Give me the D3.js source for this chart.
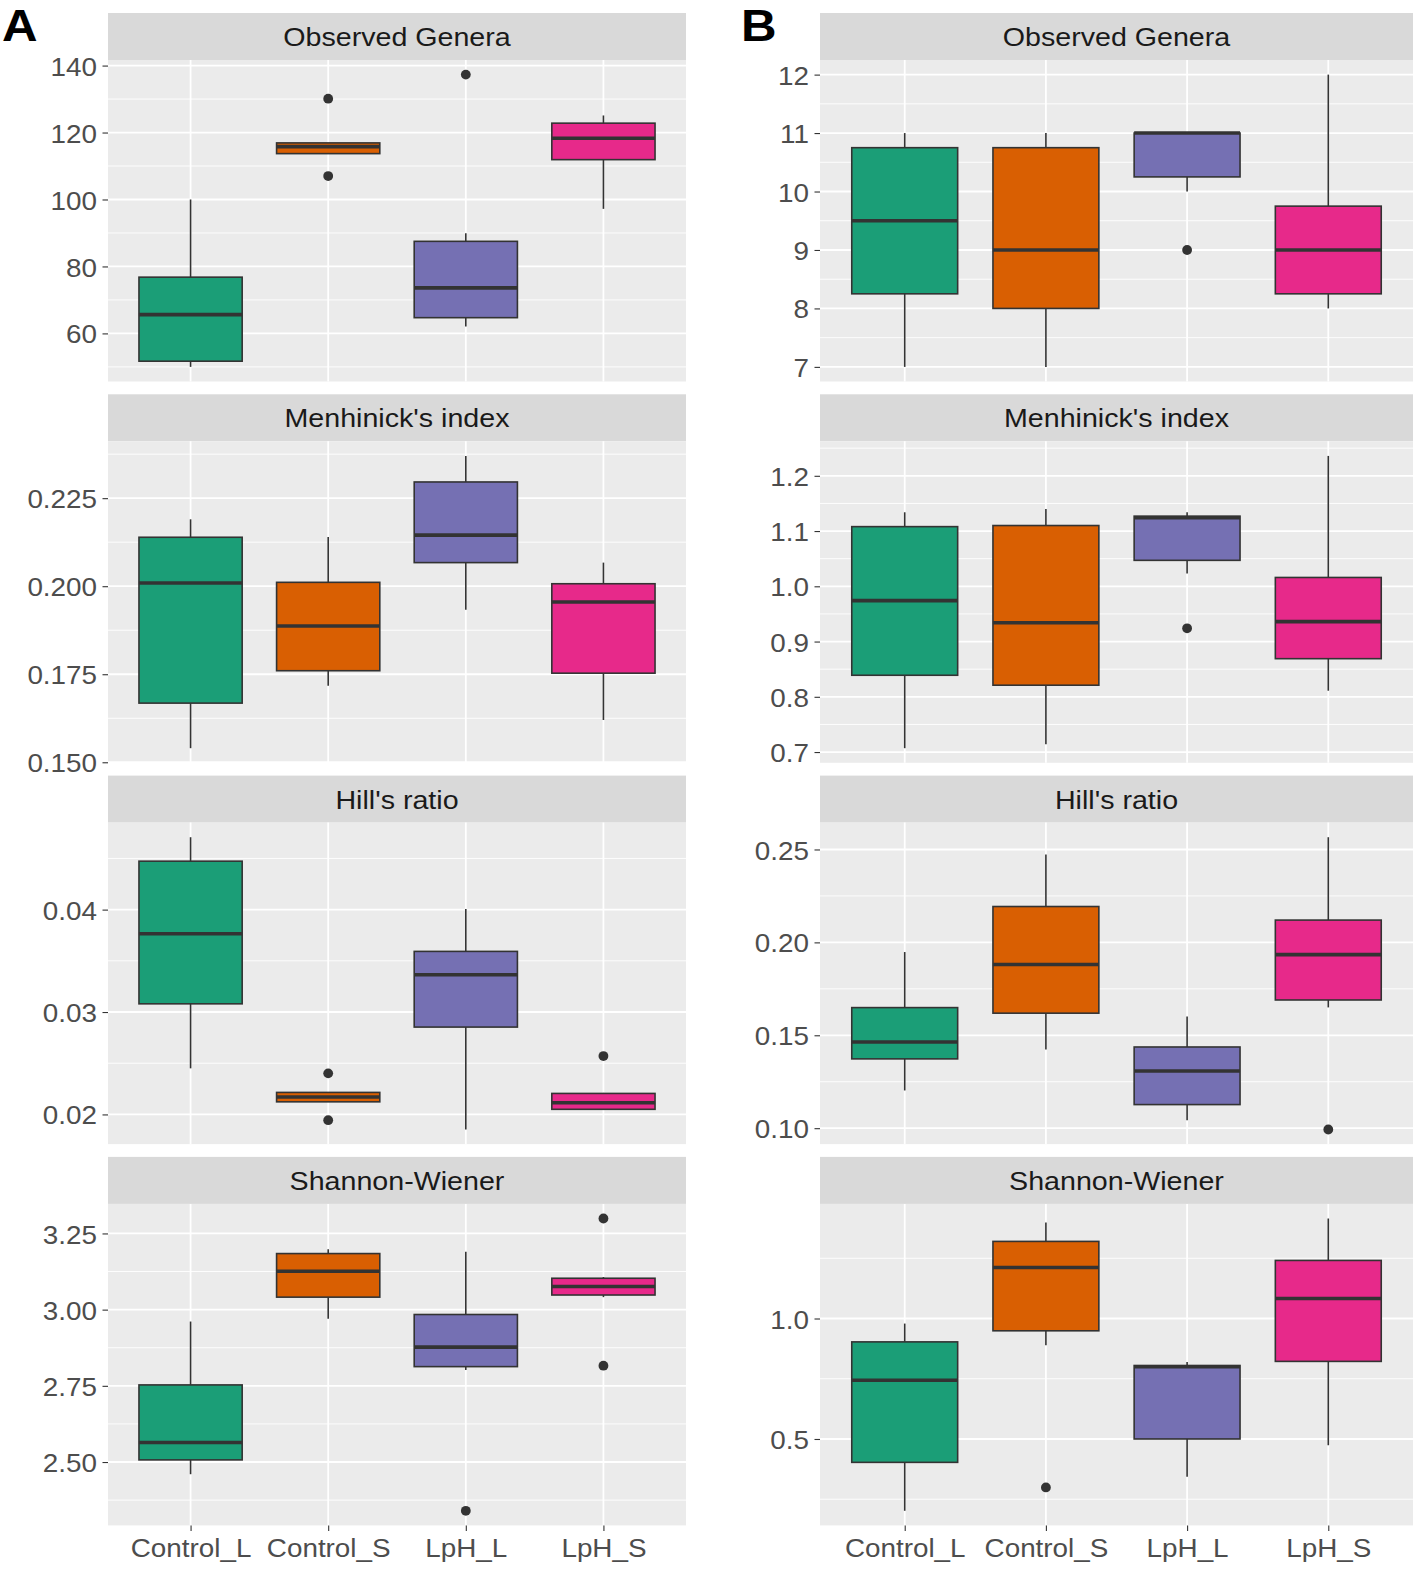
<!DOCTYPE html>
<html>
<head>
<meta charset="utf-8">
<script src="https://cdnjs.cloudflare.com/ajax/libs/d3/7.8.5/d3.min.js"></script>
<style>
  html, body { margin: 0; padding: 0; background: #ffffff; }
  svg { display: block; }
  text { font-family: "Liberation Sans", Arial, sans-serif; }
</style>
</head>
<body>
<svg id="chart" width="1418" height="1569"></svg>
<script>
// ---------------- DATA ----------------
const categories = ["Control_L", "Control_S", "LpH_L", "LpH_S"];
const fillColors = ["#1B9E77", "#D95F02", "#7570B3", "#E7298A"];
const metricNames = ["Observed Genera", "Menhinick's index", "Hill's ratio", "Shannon-Wiener"];
const panelLetters = ["A", "B"];

// box stats per category: [lower whisker, Q1, median, Q3, upper whisker]
const obsA  = [[50, 51.7, 65.6, 76.8, 100], [113.7, 113.7, 115.8, 116.9, 116.9], [62.1, 64.7, 73.6, 87.5, 89.9], [97.2, 111.9, 118.3, 122.8, 125.1]];
const obsA_out = [[], [130.1, 107.0], [137.3], []];
const menA  = [[0.154, 0.1668, 0.2009, 0.2139, 0.219], [0.1717, 0.176, 0.1887, 0.2011, 0.214], [0.1933, 0.2067, 0.2145, 0.2296, 0.237], [0.162, 0.1753, 0.1955, 0.2007, 0.2067]];
const menA_out = [[], [], [], []];
const hillA = [[0.0245, 0.0308, 0.03765, 0.04473, 0.04707], [0.02123, 0.02123, 0.0217, 0.02215, 0.02215], [0.01853, 0.02853, 0.03364, 0.03592, 0.04007], [0.0205, 0.0205, 0.02114, 0.02205, 0.0221]];
const hillA_out = [[], [0.02401, 0.01944], [], [0.0257]];
const shanA = [[2.46, 2.507, 2.564, 2.753, 2.961], [2.970, 3.041, 3.126, 3.184, 3.198], [2.802, 2.813, 2.877, 2.984, 3.19], [3.041, 3.048, 3.076, 3.103, 3.107]];
const shanA_out = [[], [], [2.34], [3.299, 2.816]];

const obsB  = [[7, 8.25, 9.5, 10.75, 11], [7, 8, 9, 10.75, 11], [10, 10.25, 11, 11, 11], [8, 8.25, 9, 9.75, 12]];
const obsB_out = [[], [], [9], []];
const menB  = [[0.707, 0.839, 0.974, 1.108, 1.134], [0.714, 0.821, 0.934, 1.11, 1.14], [1.023, 1.047, 1.124, 1.127, 1.134], [0.811, 0.869, 0.936, 1.016, 1.236]];
const menB_out = [[], [], [0.924], []];
const hillB = [[0.1203, 0.1373, 0.1464, 0.1649, 0.1948], [0.1423, 0.1619, 0.1881, 0.2193, 0.2473], [0.1043, 0.1127, 0.1308, 0.1437, 0.1601], [0.165, 0.169, 0.1934, 0.212, 0.2566]];
const hillB_out = [[], [], [], [0.0993]];
const shanB = [[0.202, 0.403, 0.744, 0.903, 0.979], [0.889, 0.949, 1.212, 1.32, 1.398], [0.343, 0.5, 0.80, 0.805, 0.82], [0.474, 0.822, 1.083, 1.241, 1.415]];
const shanB_out = [[], [0.299], [], []];

// y tick values and labels
const obsA_ticks = [60, 80, 100, 120, 140];
const obsA_labels = ["60", "80", "100", "120", "140"];
const menA_ticks = [0.150, 0.175, 0.200, 0.225];
const menA_labels = ["0.150", "0.175", "0.200", "0.225"];
const hillA_ticks = [0.02, 0.03, 0.04];
const hillA_labels = ["0.02", "0.03", "0.04"];
const shanA_ticks = [2.50, 2.75, 3.00, 3.25];
const shanA_labels = ["2.50", "2.75", "3.00", "3.25"];
const obsB_ticks = [7, 8, 9, 10, 11, 12];
const obsB_labels = ["7", "8", "9", "10", "11", "12"];
const menB_ticks = [0.7, 0.8, 0.9, 1.0, 1.1, 1.2];
const menB_labels = ["0.7", "0.8", "0.9", "1.0", "1.1", "1.2"];
const hillB_ticks = [0.10, 0.15, 0.20, 0.25];
const hillB_labels = ["0.10", "0.15", "0.20", "0.25"];
const shanB_ticks = [0.5, 1.0];
const shanB_labels = ["0.5", "1.0"];

// ---------------- PANELS (assembled from arrays) ----------------
const panels = [
  [ {stats: obsA, out: obsA_out, ticks: obsA_ticks, labels: obsA_labels},
    {stats: menA, out: menA_out, ticks: menA_ticks, labels: menA_labels},
    {stats: hillA, out: hillA_out, ticks: hillA_ticks, labels: hillA_labels},
    {stats: shanA, out: shanA_out, ticks: shanA_ticks, labels: shanA_labels} ],
  [ {stats: obsB, out: obsB_out, ticks: obsB_ticks, labels: obsB_labels},
    {stats: menB, out: menB_out, ticks: menB_ticks, labels: menB_labels},
    {stats: hillB, out: hillB_out, ticks: hillB_ticks, labels: hillB_labels},
    {stats: shanB, out: shanB_out, ticks: shanB_ticks, labels: shanB_labels} ]
];

// ---------------- LAYOUT ----------------
const colX = [[108, 686], [820, 1413]];
const rowTop0 = 13, rowStep = 381.3, stripH = 47, panelH = 321.5;
const SX = 1.05; // horizontal glyph stretch
const fontSize = 26.5;

const svg = d3.select("#chart");

function stretchText(sel, s) { sel.attr("transform", `scale(${s || SX},1)`); }

panels.forEach((col, ci) => {
  const [x0, x1] = colX[ci];
  const x = d3.scalePoint().domain(categories).range([x0, x1]).padding(0.6);
  const boxW = x.step() * 0.75;

  // panel letter
  svg.append("g").attr("transform", `translate(${ci === 0 ? 2 : 741},40.5)`)
    .append("text").text(panelLetters[ci])
    .attr("font-size", 44).attr("font-weight", "bold").attr("fill", "#000")
    .call(stretchText, 1.12);

  col.forEach((p, ri) => {
    const sTop = rowTop0 + ri * rowStep;
    const pTop = sTop + stripH;
    const pBot = pTop + panelH;

    // y domain = data extent expanded by 5%
    const allVals = p.stats.flat().concat(p.out.flat());
    const [mn, mx] = d3.extent(allVals);
    const pad = (mx - mn) * 0.05;
    const y = d3.scaleLinear().domain([mn - pad, mx + pad]).range([pBot, pTop]);

    const g = svg.append("g");
    // strip
    g.append("rect").attr("x", x0).attr("y", sTop).attr("width", x1 - x0).attr("height", stripH).attr("fill", "#D9D9D9");
    g.append("g").attr("transform", `translate(${(x0 + x1) / 2},${sTop + stripH / 2 + 9.5})`)
      .append("text").text(metricNames[ri]).attr("text-anchor", "middle")
      .attr("font-size", fontSize).attr("fill", "#1A1A1A").call(stretchText, 1.08);

    // panel background
    g.append("rect").attr("x", x0).attr("y", pTop).attr("width", x1 - x0).attr("height", panelH).attr("fill", "#EBEBEB");

    // minor gridlines
    const step = p.ticks[1] - p.ticks[0];
    const ext = [p.ticks[0] - step].concat(p.ticks, [p.ticks[p.ticks.length - 1] + step]);
    const minors = d3.pairs(ext).map(([a, b]) => (a + b) / 2).filter(v => v > y.domain()[0] && v < y.domain()[1]);
    g.selectAll(".minor").data(minors).enter().append("line")
      .attr("x1", x0).attr("x2", x1).attr("y1", d => y(d)).attr("y2", d => y(d))
      .attr("stroke", "#FFFFFF").attr("stroke-width", 0.9);
    // major gridlines
    g.selectAll(".major").data(p.ticks.filter(v => v >= y.domain()[0] && v <= y.domain()[1])).enter().append("line")
      .attr("x1", x0).attr("x2", x1).attr("y1", d => y(d)).attr("y2", d => y(d))
      .attr("stroke", "#FFFFFF").attr("stroke-width", 1.8);
    g.selectAll(".vmajor").data(categories).enter().append("line")
      .attr("x1", d => x(d)).attr("x2", d => x(d)).attr("y1", pTop).attr("y2", pBot)
      .attr("stroke", "#FFFFFF").attr("stroke-width", 1.8);

    // y axis
    const yAxis = d3.axisLeft(y).tickValues(p.ticks).tickFormat((d, i) => p.labels[i]).tickSize(5.5).tickPadding(0);
    const ya = g.append("g").attr("transform", `translate(${x0},0)`).call(yAxis);
    ya.select(".domain").remove();
    ya.selectAll(".tick line").attr("stroke", "#333333").attr("stroke-width", 1.1);
    ya.selectAll(".tick text").attr("font-size", fontSize).attr("fill", "#4D4D4D")
      .attr("font-family", "Liberation Sans, Arial, sans-serif")
      .attr("x", -11 / SX).attr("dy", "0.36em").call(stretchText);

    // x axis (bottom row only)
    if (ri === col.length - 1) {
      const xAxis = d3.axisBottom(x).tickSize(5.5).tickPadding(0);
      const xa = g.append("g").attr("transform", `translate(0,${pBot})`).call(xAxis);
      xa.select(".domain").remove();
      xa.selectAll(".tick line").attr("stroke", "#333333").attr("stroke-width", 1.1);
      xa.selectAll(".tick text").attr("font-size", fontSize).attr("fill", "#4D4D4D")
        .attr("font-family", "Liberation Sans, Arial, sans-serif")
        .attr("y", 31.5).attr("dy", 0).attr("x", 0).call(stretchText);
    }

    // boxes
    const bx = g.selectAll(".box").data(categories).enter().append("g");
    bx.append("line").attr("x1", d => x(d)).attr("x2", d => x(d))
      .attr("y1", (d, i) => y(p.stats[i][4])).attr("y2", (d, i) => y(p.stats[i][3]))
      .attr("stroke", "#333333").attr("stroke-width", 1.6);
    bx.append("line").attr("x1", d => x(d)).attr("x2", d => x(d))
      .attr("y1", (d, i) => y(p.stats[i][1])).attr("y2", (d, i) => y(p.stats[i][0]))
      .attr("stroke", "#333333").attr("stroke-width", 1.6);
    bx.append("rect").attr("x", d => x(d) - boxW / 2).attr("width", boxW)
      .attr("y", (d, i) => y(p.stats[i][3])).attr("height", (d, i) => y(p.stats[i][1]) - y(p.stats[i][3]))
      .attr("fill", (d, i) => fillColors[i]).attr("stroke", "#333333").attr("stroke-width", 1.6);
    bx.append("line").attr("x1", d => x(d) - boxW / 2).attr("x2", d => x(d) + boxW / 2)
      .attr("y1", (d, i) => y(p.stats[i][2])).attr("y2", (d, i) => y(p.stats[i][2]))
      .attr("stroke", "#333333").attr("stroke-width", 3.6);

    // outliers
    categories.forEach((c, i) => {
      g.selectAll(null).data(p.out[i]).enter().append("circle")
        .attr("cx", x(c)).attr("cy", d => y(d)).attr("r", 4.9).attr("fill", "#333333");
    });
  });
});
</script>
</body>
</html>
